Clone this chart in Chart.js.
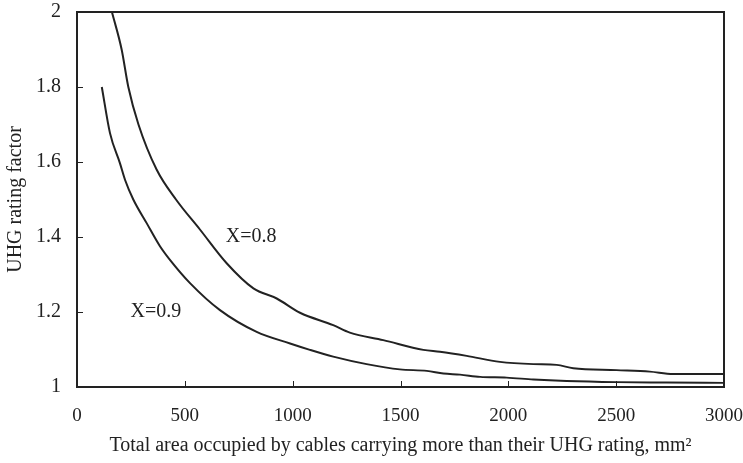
<!DOCTYPE html>
<html>
<head>
<meta charset="utf-8">
<script src="https://cdn.jsdelivr.net/npm/chart.js@4/dist/chart.umd.min.js"></script>
<style>
  html, body { margin: 0; padding: 0; background: #fff; }
  #wrap { width: 743px; height: 463px; }
</style>
</head>
<body>
<div id="wrap"><canvas id="uhgchart"></canvas></div>
<script>
// curve X=0.8
const area08 = [162, 207, 238, 285, 369, 459, 570, 694, 818, 926, 1034, 1188, 1265, 1420, 1606, 1683, 1807, 1961, 2116, 2224, 2301, 2502, 2656, 2764, 2880, 3000];
const factor08 = [2.0, 1.90, 1.80, 1.70, 1.58, 1.50, 1.42, 1.33, 1.263, 1.236, 1.198, 1.165, 1.145, 1.125, 1.099, 1.094, 1.083, 1.067, 1.061, 1.059, 1.050, 1.045, 1.041, 1.035, 1.035, 1.035];
// curve X=0.9
const area09 = [115, 153, 199, 223, 261, 323, 384, 431, 524, 663, 833, 988, 1080, 1188, 1343, 1497, 1622, 1699, 1776, 1869, 1992, 2116, 2270, 2502, 2733, 3000];
const factor09 = [1.80, 1.677, 1.597, 1.552, 1.50, 1.437, 1.376, 1.339, 1.277, 1.205, 1.147, 1.116, 1.099, 1.081, 1.061, 1.047, 1.043, 1.036, 1.033, 1.027, 1.025, 1.020, 1.016, 1.013, 1.012, 1.011];

const xTicks = [0, 500, 1000, 1500, 2000, 2500, 3000];
const yTicks = [1, 1.2, 1.4, 1.6, 1.8, 2];

const curveLabels = [
  { text: 'X=0.8', x: 807, y: 1.40 },
  { text: 'X=0.9', x: 366, y: 1.20 }
];

const ink = '#222';
const serif = "'Liberation Serif', 'DejaVu Serif', serif";

const pts = (xs, ys) => xs.map((x, i) => ({ x: x, y: ys[i] }));

// frame, inward ticks and curve names
const framePlugin = {
  id: 'frame',
  afterDatasetsDraw(chart) {
    const { ctx, chartArea: a, scales } = chart;
    ctx.save();
    ctx.strokeStyle = ink;
    ctx.lineWidth = 2;
    ctx.strokeRect(a.left, a.top, a.right - a.left, a.bottom - a.top);
    ctx.lineWidth = 1;
    ctx.beginPath();
    xTicks.forEach(v => {
      const px = Math.round(scales.x.getPixelForValue(v)) + 0.5;
      ctx.moveTo(px, a.bottom);
      ctx.lineTo(px, a.bottom - 6);
    });
    yTicks.forEach(v => {
      const py = Math.round(scales.y.getPixelForValue(v)) + 0.5;
      ctx.moveTo(a.left, py);
      ctx.lineTo(a.left + 6, py);
    });
    ctx.stroke();
    ctx.fillStyle = ink;
    ctx.font = '20px ' + serif;
    ctx.textAlign = 'center';
    ctx.textBaseline = 'middle';
    curveLabels.forEach(l => {
      ctx.fillText(l.text, scales.x.getPixelForValue(l.x), scales.y.getPixelForValue(l.y));
    });
    ctx.restore();
  }
};

new Chart(document.getElementById('uhgchart'), {
  type: 'line',
  data: {
    datasets: [
      { label: 'X=0.8', data: pts(area08, factor08) },
      { label: 'X=0.9', data: pts(area09, factor09) }
    ]
  },
  options: {
    responsive: true,
    maintainAspectRatio: false,
    animation: false,
    layout: { padding: { top: 12, right: 19, left: 0, bottom: 0 } },
    elements: {
      line: { borderColor: ink, borderWidth: 2, cubicInterpolationMode: 'monotone', fill: false },
      point: { radius: 0 }
    },
    plugins: { legend: { display: false }, tooltip: { enabled: false } },
    scales: {
      x: {
        type: 'linear',
        min: 0,
        max: 3000,
        afterBuildTicks: s => { s.ticks = xTicks.map(v => ({ value: v })); },
        afterFit: s => { s.height = 76; s.paddingLeft = 0; s.paddingRight = 0; },
        grid: { display: false },
        border: { display: false },
        ticks: { color: ink, font: { family: serif, size: 19 }, padding: 10, maxRotation: 0, callback: v => String(v) },
        title: {
          display: true,
          text: 'Total area occupied by cables carrying more than their UHG rating, mm²',
          color: ink,
          font: { family: serif, size: 20 },
          padding: { top: 4, bottom: 5 }
        }
      },
      y: {
        min: 1,
        max: 2,
        afterBuildTicks: s => { s.ticks = yTicks.map(v => ({ value: v })); },
        afterFit: s => { s.width = 77; s.paddingTop = 0; s.paddingBottom = 0; },
        grid: { display: false },
        border: { display: false },
        ticks: { color: ink, font: { family: serif, size: 20 }, padding: 8, callback: v => String(v) },
        title: {
          display: true,
          text: 'UHG rating factor',
          color: ink,
          font: { family: serif, size: 20 },
          padding: { bottom: 4 }
        }
      }
    }
  },
  plugins: [framePlugin]
});
</script>
</body>
</html>
